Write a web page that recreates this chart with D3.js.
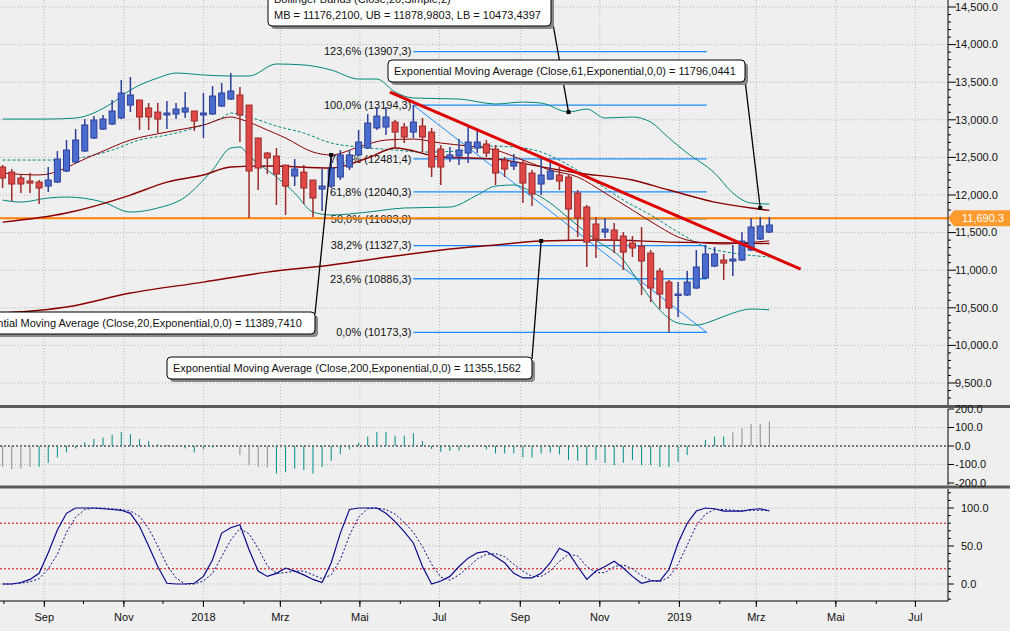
<!DOCTYPE html>
<html><head><meta charset="utf-8">
<script src="https://cdn.jsdelivr.net/npm/d3@7"></script>
<style>
body{margin:0;background:#efefef;overflow:hidden}
text{font-family:"Liberation Sans",Arial,sans-serif;font-size:11px;fill:#111}
</style></head><body>
<script>
// weekly candles, first week starts 2017-07-31
const opens  = [12372,12305,12226,12186,12172,12119,12172,12319,12438,12585,12758,12877,12944,13024,13196,13263,13157,13103,13064,13077,13103,13117,13064,13077,13183,13276,13330,13196,12758,12558,12518,12398,12252,12305,12199,12079,12119,12239,12372,12532,12625,12891,12904,12970,12904,12837,12917,12837,12611,12492,12518,12558,12625,12678,12611,12465,12385,12425,12292,12146,12212,12266,12239,12026,11840,11614,11507,11534,11454,11361,11321,11228,10989,10842,10670,10670,10763,10896,11055,11135,11122,11135,11268,11414,11507];
const highs  = [12398,12345,12266,12292,12199,12372,12585,12731,12877,13010,13050,13064,13263,13529,13569,13263,13223,13223,13250,13223,13369,13117,13356,13449,13489,13622,13436,13196,12758,12571,12625,12398,12478,12398,12199,12345,12505,12598,12598,12864,13077,13170,13170,12997,12957,13194.3,13024,12891,12664,12638,12744,12904,12864,12731,12664,12505,12545,12465,12332,12492,12452,12372,12266,12066,11867,11707,11694,11627,11507,11454,11574,11268,11029,10869,10842,10989,11268,11335,11308,11215,11335,11507,11694,11707,11707];
const lows   = [12093,11920,12026,12026,11880,12039,12159,12305,12425,12571,12744,12864,12931,13010,13103,12864,12864,12824,12877,13010,13024,12851,12758,13064,13170,13263,12704,11694,12066,12279,11867,11734,12119,11880,11707,11787,12093,12199,12332,12518,12611,12864,12797,12625,12691,12758,12571,12239,12133,12438,12398,12425,12558,12505,12133,12239,12332,11893,11853,11999,12199,12066,11401,11441,11042,11162,11428,11228,11002,11175,10670,10577,10484,10173.3,10377,10656,10749,10882,11042,10869,10922,11122,11255,11401,11494];
const closes = [12226,12146,12146,12159,12093,12199,12478,12598,12731,12931,12997,13010,13117,13356,13330,13037,13037,13010,13090,13143,13157,12984,13090,13316,13356,13383,13064,12319,12359,12492,12279,12119,12345,12093,11960,12119,12359,12532,12532,12704,12957,13050,13037,12837,12771,12970,12771,12372,12372,12532,12598,12704,12704,12558,12292,12345,12438,12159,12013,12266,12319,12186,11813,11694,11374,11414,11547,11401,11241,11295,11122,10763,10683,10497,10683,10842,11042,11215,11215,11095,11148,11388,11574,11587,11601];

// indicator lines: candle index + value
const ubIdx = [0,5,8,12,14,17,19,22,25,27,30,33,36,39,41,43,45,50,54,57,59,62,64,66,69,71,73,75,78,80,82,84];
const ubVal = [13010,13010,13024,13223,13396,13556,13622,13596,13582,13582,13742,13729,13662,13542,13542,13369,13290,13276,13210,13236,13223,13103,13143,13024,13037,12970,12758,12558,12292,12026,11893,11879];
const mbIdx = [0,5,9,12,15,18,21,24,25,27,30,33,36,39,43,46,50,53,56,59,62,65,68,71,74,77,80,84];
const mbVal = [12465,12465,12505,12598,12731,12797,12891,13024,13090,13037,12917,12824,12691,12638,12598,12571,12585,12651,12638,12571,12398,12172,11933,11734,11507,11308,11228,11176];
const lbIdx = [0,2,5,7,11,14,17,20,22,23,25,26,27,30,32,34,36,40,44,49,52,54,56,58,60,62,65,68,70,72,74,76,78,80,82,84];
const lbVal = [11933,11906,11960,11973,11906,11773,11827,11973,12199,12332,12625,12638,12518,12239,12026,11773,11734,11773,11827,11840,11999,12119,12133,12039,11893,11694,11401,11135,10789,10470,10297,10270,10337,10430,10484,10473];
const e20Idx = [0,4,10,14,18,22,25,26,29,31,34,36,39,42,45,48,51,54,57,60,63,66,69,72,74,77,79,81,84];
const e20Val = [12292,12266,12532,12731,12837,12931,13037,13010,12864,12758,12571,12532,12638,12731,12744,12691,12651,12598,12465,12332,12239,12026,11800,11574,11441,11361,11348,11361,11390];
const e61Idx = [0,7,14,18,22,25,29,36,40,43,48,54,58,63,69,73,78,82,84];
const e61Val = [11640,11760,11999,12172,12266,12372,12385,12359,12492,12625,12505,12478,12398,12292,12199,12066,11906,11827,11796];
const e200Idx = [0,7,14,22,29,36,43,49,54,59,66,73,80,84];
const e200Val = [10430,10510,10696,10842,10975,11069,11188,11281,11335,11388,11401,11374,11361,11355];

// fibonacci retracement
const fibPct = [123.6,100,76.4,61.8,50,38.2,23.6,0];
const fibVal = [13907.3,13194.3,12481.4,12040.3,11683.8,11327.3,10886.3,10173.3];
const lastPrice = 11690.3;

// lower panels
const histVal = [-113,-125,-122,-113,-113,-91,-62,-35,-13,20,38,45,60,75,64,38,27,9,5,-4,-13,-35,-16,-9,5,0,-49,-104,-113,-116,-149,-140,-122,-131,-149,-113,-80,-44,-18,18,51,75,75,56,56,69,27,-16,-31,-27,-25,-9,-4,-18,-40,-40,-40,-62,-62,-40,-36,-45,-76,-80,-104,-76,-91,-104,-91,-76,-104,-104,-113,-113,-85,-49,-4,33,51,51,73,96,120,120,133];
const stochK = [0,0,2,6,14,41,71,93,100,100,100,99,98,97,93,76,50,23,1,0,0,1,10,32,67,74,78,45,17,10,14,21,17,12,6,2,28,67,98,100,100,100,93,82,69,54,23,0,4,10,23,34,41,43,36,28,14,8,8,14,28,47,41,23,6,17,23,30,21,10,1,4,4,19,54,80,96,100,99,96,96,96,98,99,96];
const stochD = [0,0,1,3,7,20,39,68,88,98,100,100,99,98,96,89,73,50,25,8,0,0,4,14,36,58,73,66,47,24,14,15,17,17,12,7,12,32,64,88,99,100,98,92,81,68,49,26,9,5,12,22,33,39,40,36,26,17,10,10,17,30,39,37,23,15,15,23,25,20,11,5,3,9,26,51,77,92,98,98,97,96,97,97,97];

const W = 1010, H = 631, PR = 948;
const dateOf = i => new Date(2017, 6, 31 + 7 * i);
const x = d3.scaleTime().domain([new Date(2017, 6, 29), new Date(2019, 6, 26)]).range([0, PR]);
const y = d3.scaleLinear().domain([9500, 14500]).range([383, 7]);
const yh = d3.scaleLinear().domain([-200, 200]).range([483, 409]);
const ys = d3.scaleLinear().domain([0, 100]).range([584, 508]);

const svg = d3.select("body").append("svg").attr("width", W).attr("height", H);
const fmtDE = v => v.toFixed(1).replace(".", ",");

// clip for main panel
svg.append("clipPath").attr("id", "cm").append("rect").attr("width", PR).attr("height", 405);

const months = x.ticks(d3.timeMonth.every(2));
const grid = svg.append("g").attr("stroke", "#b8b8b8").attr("stroke-dasharray", "1,2");
// vertical grid all panels
months.forEach(m => grid.append("line").attr("x1", x(m)).attr("x2", x(m)).attr("y1", 0).attr("y2", 600));
d3.range(9500, 14501, 500).forEach(v => grid.append("line").attr("x1", 0).attr("x2", PR).attr("y1", y(v)).attr("y2", y(v)));
[100, -100].forEach(v => grid.append("line").attr("x1", 0).attr("x2", PR).attr("y1", yh(v)).attr("y2", yh(v)));
[100, 50, 0].forEach(v => grid.append("line").attr("x1", 0).attr("x2", PR).attr("y1", ys(v)).attr("y2", ys(v)));

const main = svg.append("g").attr("clip-path", "url(#cm)");

// fib lines
const fibStart = dateOf(45), fibEnd = new Date(2019, 0, 22);
fibVal.forEach((v, i) => {
  main.append("line").attr("x1", x(fibStart)).attr("x2", x(fibEnd)).attr("y1", y(v)).attr("y2", y(v))
    .attr("stroke", "#1e8cff").attr("stroke-width", 1.3);
  main.append("text").attr("x", x(fibStart) - 2).attr("y", y(v)).attr("dy", "0.35em")
    .attr("text-anchor", "end").text(`${fmtDE(fibPct[i])}% (${fmtDE(fibVal[i])})`);
});
// blue diagonal
main.append("line").attr("x1", x(fibStart)).attr("y1", y(fibVal[1])).attr("x2", x(fibEnd)).attr("y2", y(fibVal[7]))
  .attr("stroke", "#1e8cff").attr("stroke-width", 1);

// last price line
main.append("line").attr("x1", 0).attr("x2", PR).attr("y1", y(lastPrice)).attr("y2", y(lastPrice))
  .attr("stroke", "#ff8000").attr("stroke-width", 2);

const line = (idx, val) => d3.line().curve(d3.curveMonotoneX)(idx.map((d, i) => [x(dateOf(d)), y(val[i])]));
main.append("path").attr("d", line(ubIdx, ubVal)).attr("fill", "none").attr("stroke", "#00877a");
main.append("path").attr("d", line(lbIdx, lbVal)).attr("fill", "none").attr("stroke", "#00877a");
main.append("path").attr("d", line(mbIdx, mbVal)).attr("fill", "none").attr("stroke", "#00877a").attr("stroke-dasharray", "3,2");
main.append("path").attr("d", line(e20Idx, e20Val)).attr("fill", "none").attr("stroke", "#8b0000");
main.append("path").attr("d", line(e61Idx, e61Val)).attr("fill", "none").attr("stroke", "#8b0000").attr("stroke-width", 1.4);
main.append("path").attr("d", line(e200Idx, e200Val)).attr("fill", "none").attr("stroke", "#8b0000").attr("stroke-width", 1.4);

// candles
const cw = 6;
const candles = main.selectAll("g.c").data(opens.map((o, i) => ({ i, o, h: highs[i], l: lows[i], c: closes[i] })))
  .enter().append("g").attr("class", "c");
candles.append("line")
  .attr("x1", d => x(dateOf(d.i))).attr("x2", d => x(dateOf(d.i)))
  .attr("y1", d => y(d.h)).attr("y2", d => y(d.l))
  .attr("stroke", d => d.c >= d.o ? "#2c3f99" : "#9b2a2a").attr("stroke-width", 1.5);
candles.append("rect")
  .attr("x", d => x(dateOf(d.i)) - cw / 2).attr("width", cw)
  .attr("y", d => y(Math.max(d.o, d.c))).attr("height", d => Math.max(1.5, Math.abs(y(d.o) - y(d.c))))
  .attr("fill", d => d.c >= d.o ? "#4a6ccc" : "#e04848")
  .attr("stroke", d => d.c >= d.o ? "#2c3f99" : "#9b2a2a").attr("stroke-width", 1);

// red trend line
main.append("line").attr("x1", x(new Date(2018, 4, 24))).attr("y1", y(13369))
  .attr("x2", x(new Date(2019, 3, 4))).attr("y2", y(11015))
  .attr("stroke", "#dd0000").attr("stroke-width", 3);

// annotation boxes
function note(bx, by, bw, lines, px, py, tx, ty) {
  const g = svg.append("g");
  g.append("line").attr("x1", px).attr("y1", py).attr("x2", tx).attr("y2", ty).attr("stroke", "#000").attr("stroke-width", 1.3);
  g.append("rect").attr("x", tx - 2).attr("y", ty - 2).attr("width", 4).attr("height", 4).attr("fill", "#000");
  const bh = lines.length * 16 + 6;
  g.append("rect").attr("x", bx + 3).attr("y", by + 3).attr("width", bw).attr("height", bh).attr("rx", 4).attr("fill", "#888");
  g.append("rect").attr("x", bx).attr("y", by).attr("width", bw).attr("height", bh).attr("rx", 4)
    .attr("fill", "#fff").attr("stroke", "#000");
  lines.forEach((t, k) => g.append("text").attr("x", bx + 6).attr("y", by + 15 + k * 16).text(t));
}
note(268, -12, 283, ["Bollinger Bands (Close,20,Simple,2)", "MB = 11176,2100, UB = 11878,9803, LB = 10473,4397"],
  553, 24, x(dateOf(62)), y(13103));
note(388, 60, 357, ["Exponential Moving Average (Close,61,Exponential,0,0) = 11796,0441"], 745, 80, x(dateOf(83)), y(11827));
note(-46, 312, 361, ["Exponential Moving Average (Close,20,Exponential,0,0) = 11389,7410"], 315, 314, x(dateOf(36)), y(12532));
note(167, 357, 365, ["Exponential Moving Average (Close,200,Exponential,0,0) = 11355,1562"], 532, 359, x(dateOf(59)), y(11388));

// right price axis
const ax = svg.append("g");
ax.append("line").attr("x1", PR).attr("x2", PR).attr("y1", 0).attr("y2", 405).attr("stroke", "#000");
d3.range(9300, 14701, 100).forEach(v => {
  const major = v % 500 === 0;
  ax.append("line").attr("x1", PR).attr("x2", PR + (major ? 8 : 3)).attr("y1", y(v)).attr("y2", y(v)).attr("stroke", "#000");
  if (major) ax.append("text").attr("x", PR + 7).attr("y", y(v)).attr("dy", "0.35em").text(d3.format(",.1f")(v));
});
// last price tag
const ly = y(lastPrice);
ax.append("path").attr("d", `M${PR},${ly} L${PR + 6},${ly - 8} L${W},${ly - 8} L${W},${ly + 8} L${PR + 6},${ly + 8} Z`).attr("fill", "#ff9a2e");
ax.append("text").attr("x", PR + 14).attr("y", ly).attr("dy", "0.35em").style("fill", "#fff").text(d3.format(",.1f")(lastPrice));

// separators
[406.5, 487].forEach(s => svg.append("rect").attr("x", 0).attr("y", s - 1.5).attr("width", W).attr("height", 3).attr("fill", "#5a5a5a"));

// histogram panel
svg.append("line").attr("x1", 0).attr("x2", PR).attr("y1", yh(0)).attr("y2", yh(0)).attr("stroke", "#000").attr("stroke-dasharray", "2,2");
svg.selectAll("line.h").data(histVal).enter().append("line").attr("class", "h")
  .attr("x1", (d, i) => x(dateOf(i))).attr("x2", (d, i) => x(dateOf(i)))
  .attr("y1", yh(0)).attr("y2", d => yh(d))
  .attr("stroke", (d, i) => (i < 4 || (i >= 26 && i <= 29) || i >= 80) ? "#8a8a8a" : "#008b8b").attr("stroke-width", 1);
svg.append("line").attr("x1", PR).attr("x2", PR).attr("y1", 409).attr("y2", 485).attr("stroke", "#000");
[200, 100, 0, -100, -200].forEach(v => {
  svg.append("line").attr("x1", PR).attr("x2", PR + 6).attr("y1", yh(v)).attr("y2", yh(v)).attr("stroke", "#000");
  svg.append("text").attr("x", PR + 7).attr("y", yh(v)).attr("dy", "0.35em").text(d3.format(".1f")(v).replace("−", "-"));
});

// stochastic panel
[80, 20].forEach(v => svg.append("line").attr("x1", 0).attr("x2", PR).attr("y1", ys(v)).attr("y2", ys(v))
  .attr("stroke", "#d00000").attr("stroke-dasharray", "2,2"));
const sl = d3.line().x((d, i) => x(dateOf(i))).y(d => ys(d));
svg.append("path").attr("d", sl(stochK)).attr("fill", "none").attr("stroke", "#0a0a8c").attr("stroke-width", 1.2);
svg.append("path").attr("d", sl(stochD)).attr("fill", "none").attr("stroke", "#0a0a8c").attr("stroke-dasharray", "2,2");
svg.append("line").attr("x1", PR).attr("x2", PR).attr("y1", 489).attr("y2", 601).attr("stroke", "#000");
d3.range(-20, 121, 10).forEach(v => {
  const major = v % 50 === 0;
  svg.append("line").attr("x1", PR).attr("x2", PR + (major ? 6 : 3)).attr("y1", ys(v)).attr("y2", ys(v)).attr("stroke", "#000");
  if (major) svg.append("text").attr("x", PR + 13).attr("y", ys(v)).attr("dy", "0.35em").text(d3.format(".1f")(v));
});

// bottom time axis
svg.append("line").attr("x1", 0).attr("x2", PR).attr("y1", 601).attr("y2", 601).attr("stroke", "#000");
x.ticks(d3.timeMonth.every(1)).forEach(m => svg.append("line").attr("x1", x(m)).attr("x2", x(m)).attr("y1", 601).attr("y2", 604).attr("stroke", "#000"));
const mName = ["Jan", "Feb", "Mrz", "Apr", "Mai", "Jun", "Jul", "Aug", "Sep", "Okt", "Nov", "Dez"];
months.forEach(m => {
  svg.append("line").attr("x1", x(m)).attr("x2", x(m)).attr("y1", 601).attr("y2", 607).attr("stroke", "#000");
  svg.append("text").attr("x", x(m)).attr("y", 621).attr("text-anchor", "middle")
    .text(m.getMonth() === 0 ? m.getFullYear() : mName[m.getMonth()]);
});
</script></body></html>
